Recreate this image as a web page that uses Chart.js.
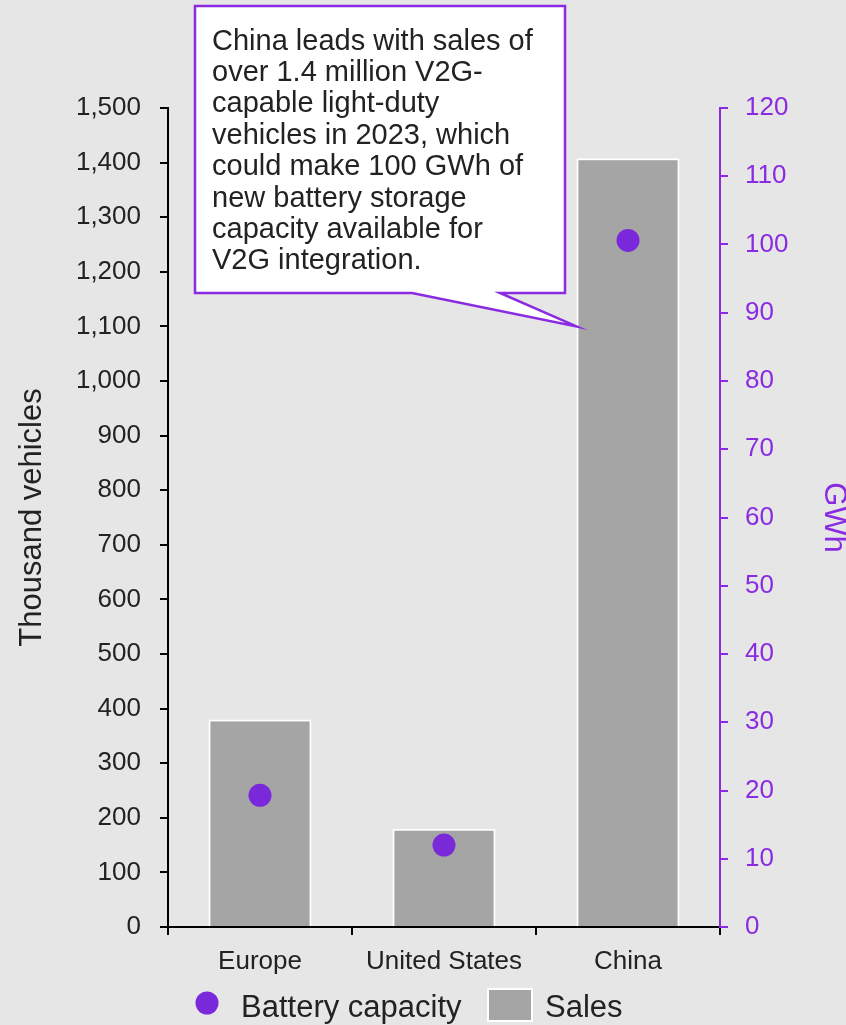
<!DOCTYPE html>
<html>
<head>
<meta charset="utf-8">
<script src="https://cdn.jsdelivr.net/npm/chart.js@4.4.1/dist/chart.umd.min.js"></script>
<style>
  html, body { margin: 0; padding: 0; background: #e6e6e6; }
  #wrap { width: 846px; height: 1025px; position: relative; }
</style>
</head>
<body>
<div id="wrap"><canvas id="chart" width="846" height="1025"></canvas></div>
<script>
  // V2G-capable light-duty vehicle sales and battery capacity, 2023
  const regions = ["Europe", "United States", "China"];
  const salesThousand = [380, 180, 1408];
  const batteryGWh = [19.3, 12.0, 100.6];

  const salesLabel = "Sales";
  const batteryLabel = "Battery capacity";
  const leftTitle = "Thousand vehicles";
  const rightTitle = "GWh";

  const calloutLines = [
    "China leads with sales of",
    "over 1.4 million V2G-",
    "capable light-duty",
    "vehicles in 2023, which",
    "could make 100 GWh of",
    "new battery storage",
    "capacity available for",
    "V2G integration."
  ];

  const FONT = '"Liberation Sans", Arial, sans-serif';
  const INK = "#222222";
  const PURPLE = "#8a2be2";
  const DOT = "#7a29da";
  const BAR = "#a5a5a5";

  Chart.defaults.font.family = FONT;
  Chart.defaults.color = INK;

  // speech-bubble note pointing at the China bar
  const callout = {
    id: "callout",
    afterDraw(chart) {
      const ctx = chart.ctx;
      const bar = chart.getDatasetMeta(1).data[2];
      const tipX = bar.x - bar.width / 2;
      const tipY = chart.scales.y.getPixelForValue(1100);
      const L = 195, T = 6, R = 565, B = 293;
      ctx.save();
      ctx.beginPath();
      ctx.moveTo(412, B);
      ctx.lineTo(tipX, tipY);
      ctx.lineTo(500, B);
      ctx.lineTo(R, B);
      ctx.lineTo(R, T);
      ctx.lineTo(L, T);
      ctx.lineTo(L, B);
      ctx.closePath();
      ctx.fillStyle = "#ffffff";
      ctx.fill();
      ctx.lineWidth = 2.5;
      ctx.strokeStyle = PURPLE;
      ctx.lineJoin = "miter";
      ctx.stroke();
      ctx.fillStyle = INK;
      ctx.font = "29px " + FONT;
      ctx.textBaseline = "alphabetic";
      ctx.textAlign = "left";
      calloutLines.forEach((s, i) => ctx.fillText(s, 212, 49.5 + i * 31.4));
      ctx.restore();
    }
  };

  // legend drawn by hand: round dot and boxed square have different sizes
  const legendRow = {
    id: "legendRow",
    afterDraw(chart) {
      const ctx = chart.ctx;
      const ds = chart.data.datasets;
      const base = 1017;
      ctx.save();
      ctx.font = "31px " + FONT;
      ctx.textBaseline = "alphabetic";
      ctx.textAlign = "left";
      // dot
      ctx.beginPath();
      ctx.arc(207, 1003, 11.5, 0, Math.PI * 2);
      ctx.fillStyle = ds[0].backgroundColor;
      ctx.fill();
      ctx.fillStyle = INK;
      ctx.fillText(ds[0].label, 241, base);
      // box
      ctx.fillStyle = ds[1].backgroundColor;
      ctx.fillRect(487, 988, 46, 34);
      ctx.lineWidth = 2;
      ctx.strokeStyle = "#ffffff";
      ctx.strokeRect(488, 989, 44, 32);
      ctx.fillStyle = INK;
      ctx.fillText(ds[1].label, 545, base);
      ctx.restore();
    }
  };

  new Chart(document.getElementById("chart"), {
    data: {
      labels: regions,
      datasets: [
        {
          type: "line",
          label: batteryLabel,
          data: batteryGWh,
          yAxisID: "y1",
          showLine: false,
          pointRadius: 11.5,
          pointHoverRadius: 11.5,
          pointBorderWidth: 0,
          backgroundColor: DOT,
          borderColor: DOT,
          order: 0
        },
        {
          type: "bar",
          label: salesLabel,
          data: salesThousand,
          yAxisID: "y",
          backgroundColor: BAR,
          borderColor: "#ffffff",
          borderWidth: 2,
          borderSkipped: "bottom",
          barPercentage: 0.56,
          categoryPercentage: 1,
          order: 1
        }
      ]
    },
    options: {
      responsive: false,
      animation: false,
      devicePixelRatio: 1,
      layout: { padding: { top: 108, left: 0, right: 0, bottom: 46 } },
      plugins: {
        legend: { display: false },
        tooltip: { enabled: false }
      },
      scales: {
        x: {
          type: "category",
          afterFit: (s) => { s.height = 52; },
          grid: { drawOnChartArea: false, offset: true, tickLength: 8, color: "#000", lineWidth: 2 },
          border: { color: "#000", width: 2 },
          ticks: { color: INK, font: { size: 26 }, padding: 11 }
        },
        y: {
          position: "left",
          min: 0,
          max: 1500,
          afterFit: (s) => { s.width = 168; },
          grid: { drawOnChartArea: false, tickLength: 8, color: "#000", lineWidth: 2 },
          border: { color: "#000", width: 2 },
          ticks: {
            stepSize: 100,
            color: INK,
            font: { size: 26 },
            padding: 19,
            callback: (v) => v.toLocaleString("en-US")
          },
          title: {
            display: true,
            text: leftTitle,
            color: INK,
            font: { size: 31, lineHeight: 1.2 },
            padding: { top: 14, bottom: 0 }
          }
        },
        y1: {
          position: "right",
          min: 0,
          max: 120,
          afterFit: (s) => { s.width = 126; },
          grid: { drawOnChartArea: false, tickLength: 8, color: PURPLE, lineWidth: 2 },
          border: { color: PURPLE, width: 2 },
          ticks: { stepSize: 10, color: PURPLE, font: { size: 26 }, padding: 17 },
          title: {
            display: true,
            text: rightTitle,
            color: PURPLE,
            font: { size: 31, lineHeight: 0.8 },
            padding: { top: 0, bottom: 0 }
          }
        }
      }
    },
    plugins: [callout, legendRow]
  });
</script>
</body>
</html>
